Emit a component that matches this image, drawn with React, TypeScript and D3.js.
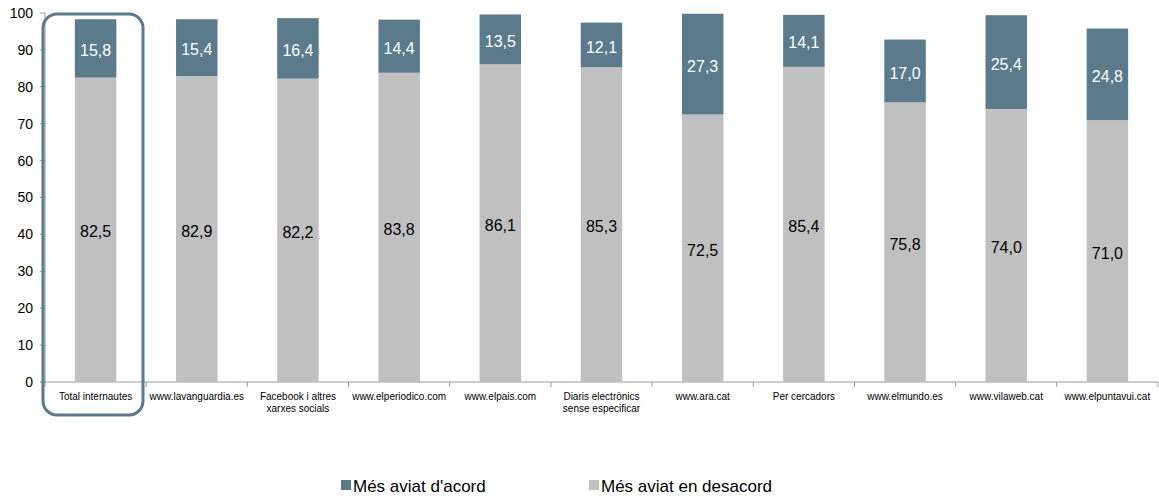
import React, { useEffect, useRef } from "react";
import * as d3 from "d3";

const categories = [
  ["Total internautes"],
  ["www.lavanguardia.es"],
  ["Facebook i altres", "xarxes socials"],
  ["www.elperiodico.com"],
  ["www.elpais.com"],
  ["Diaris electrònics", "sense especificar"],
  ["www.ara.cat"],
  ["Per cercadors"],
  ["www.elmundo.es"],
  ["www.vilaweb.cat"],
  ["www.elpuntavui.cat"],
];
const desacord = [82.5, 82.9, 82.2, 83.8, 86.1, 85.3, 72.5, 85.4, 75.8, 74.0, 71.0];
const acord = [15.8, 15.4, 16.4, 14.4, 13.5, 12.1, 27.3, 14.1, 17.0, 25.4, 24.8];
const yTicks = [0, 10, 20, 30, 40, 50, 60, 70, 80, 90, 100];
const legendLabels = ["Més aviat d'acord", "Més aviat en desacord"];

const DARK = "#5b7b8d";
const LIGHT = "#c0c0c0";
const FONT = "'Liberation Sans', Arial, sans-serif";

export default function App() {
  const ref = useRef<SVGSVGElement>(null);
  useEffect(() => {
    const svg = d3.select(ref.current);
    svg.selectAll("*").remove();
    const left = 45, right = 1158, top = 13, bottom = 382;
    const x = d3.scaleBand<number>().domain(d3.range(categories.length)).range([left, right]).paddingInner(0).paddingOuter(0);
    const y = d3.scaleLinear().domain([0, 100]).range([bottom, top]);
    const bw = x.bandwidth() * 0.41;
    const fmt = (v: number) => v.toFixed(1).replace(".", ",");

    const g = svg.append("g");
    g.append("line").attr("x1", left).attr("x2", left).attr("y1", top).attr("y2", bottom).attr("stroke", "#999").attr("stroke-width", 1);
    g.append("line").attr("x1", left - 5).attr("x2", right).attr("y1", bottom).attr("y2", bottom).attr("stroke", "#999").attr("stroke-width", 1);
    yTicks.forEach((t) => {
      g.append("line").attr("x1", left - 5).attr("x2", left).attr("y1", y(t)).attr("y2", y(t)).attr("stroke", "#999");
      g.append("text").attr("x", 33).attr("y", y(t)).attr("dy", "0.35em").attr("text-anchor", "end")
        .attr("font-family", FONT).attr("font-size", 14).attr("fill", "#000").text(String(t));
    });
    d3.range(categories.length + 1).forEach((i) => {
      const xx = i < categories.length ? x(i)! : right;
      g.append("line").attr("x1", xx).attr("x2", xx).attr("y1", bottom).attr("y2", bottom + 5).attr("stroke", "#999");
    });

    categories.forEach((lines, i) => {
      const cx = x(i)! + x.bandwidth() / 2;
      const y0 = y(0), y1 = y(desacord[i]), y2 = y(desacord[i] + acord[i]);
      g.append("rect").attr("x", cx - bw / 2).attr("width", bw).attr("y", y1).attr("height", y0 - y1).attr("fill", LIGHT);
      g.append("rect").attr("x", cx - bw / 2).attr("width", bw).attr("y", y2).attr("height", y1 - y2).attr("fill", DARK);
      g.append("text").attr("x", cx).attr("y", (y0 + y1) / 2 + 2).attr("dy", "0.35em").attr("text-anchor", "middle")
        .attr("font-family", FONT).attr("font-size", 16).attr("fill", "#000").text(fmt(desacord[i]));
      g.append("text").attr("x", cx).attr("y", (y1 + y2) / 2 + 2).attr("dy", "0.35em").attr("text-anchor", "middle")
        .attr("font-family", FONT).attr("font-size", 16).attr("fill", "#fff").text(fmt(acord[i]));
      lines.forEach((l, k) => {
        g.append("text").attr("x", cx).attr("y", 400 + k * 12).attr("text-anchor", "middle")
          .attr("font-family", FONT).attr("font-size", 10).attr("fill", "#000").text(l);
      });
    });

    g.append("rect").attr("x", 43).attr("y", 14).attr("width", 100).attr("height", 401).attr("rx", 14)
      .attr("fill", "none").attr("stroke", DARK).attr("stroke-width", 3);

    const legend = [
      { x: 341, color: DARK, label: legendLabels[0] },
      { x: 589, color: LIGHT, label: legendLabels[1] },
    ];
    legend.forEach((l) => {
      g.append("rect").attr("x", l.x).attr("y", 480).attr("width", 10).attr("height", 10).attr("fill", l.color);
      g.append("text").attr("x", l.x + 12).attr("y", 486).attr("dy", "0.35em")
        .attr("font-family", FONT).attr("font-size", 17).attr("fill", "#000").text(l.label);
    });
  }, []);
  return (
    <svg ref={ref} width={1159} height={497} style={{ position: "absolute", left: 0, top: 0, background: "#fff" }} />
  );
}
